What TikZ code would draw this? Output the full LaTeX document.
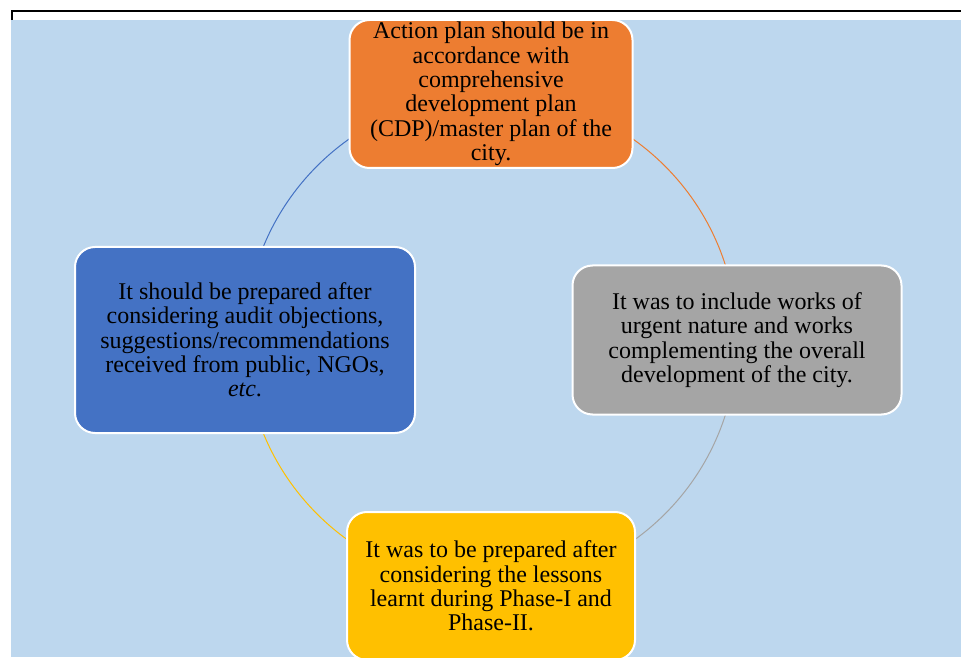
\documentclass[tikz,border=0pt]{standalone}
\usepackage{fontspec}
\setmainfont{Liberation Serif}
\usetikzlibrary{backgrounds}

\definecolor{skyfill}{HTML}{BDD7EE}
\definecolor{cdporange}{HTML}{ED7D31}
\definecolor{worksgray}{HTML}{A5A5A5}
\definecolor{auditblue}{HTML}{4472C4}
\definecolor{lessongold}{HTML}{FFC000}

\tikzset{
  stage/.style={rectangle,rounded corners=20pt,draw=white,line width=2pt,inner sep=1pt,align=center,font=\fontsize{24}{24.3}\selectfont},
  ring/.style={line width=1pt}
}

\begin{document}
\begin{tikzpicture}[x=1pt,y=1pt]

      \useasboundingbox (0,0) rectangle (961,657);

      \node[stage,fill=cdporange,minimum width=283pt,minimum height=148pt] (cdp) at (491,563){Action plan should be in\\accordance with\\comprehensive\\development plan\\(CDP)/master plan of the\\city.};
      \node[stage,fill=worksgray,minimum width=329pt,minimum height=149pt] (works) at (737,317){It was to include works of\\urgent nature and works\\complementing the overall\\development of the city.};
      \node[stage,fill=lessongold,minimum width=288pt,minimum height=148pt] (lessons) at (491,71){It was to be prepared after\\considering the lessons\\learnt during Phase-I and\\Phase-II.};
      \node[stage,fill=auditblue,minimum width=340pt,minimum height=186pt] (audit) at (245,317){It should be prepared after\\considering audit objections,\\suggestions/recommendations\\received from public, NGOs,\\\textit{etc}.};

      \begin{scope}[on background layer]
        \fill[skyfill] (11,0) rectangle (961,637);
        \draw[ring,cdporange] (cdp.center) arc[start angle=90,end angle=0,radius=246pt];
        \draw[ring,worksgray] (works.center) arc[start angle=0,end angle=-90,radius=246pt];
        \draw[ring,lessongold] (lessons.center) arc[start angle=270,end angle=180,radius=246pt];
        \draw[ring,auditblue] (audit.center) arc[start angle=180,end angle=90,radius=246pt];
      \end{scope}

      \draw[line width=2pt] (12,637) -- (12,646) -- (961,646);

    \end{tikzpicture}
\end{document}
